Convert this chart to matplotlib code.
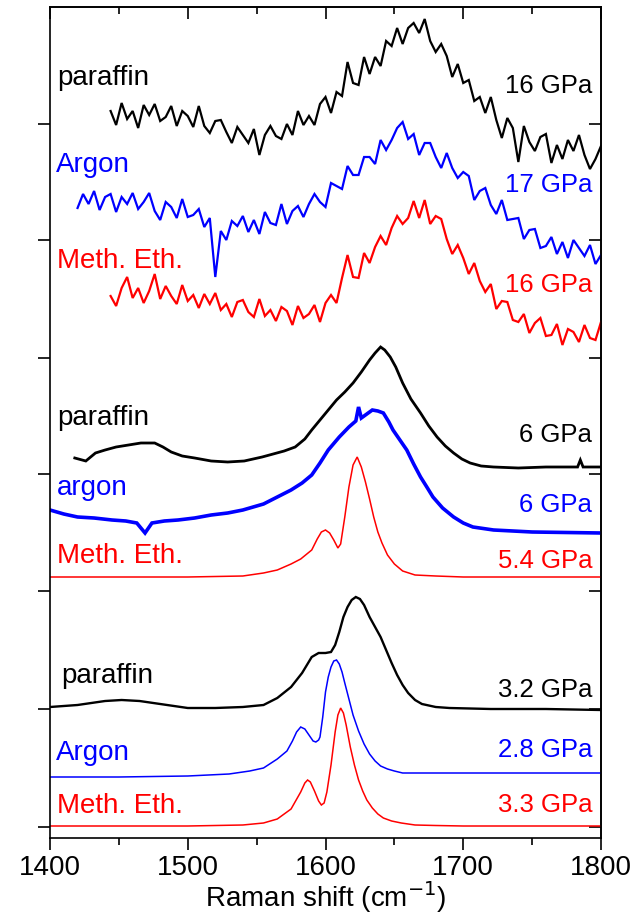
import matplotlib
matplotlib.use("Agg")
import matplotlib.pyplot as plt
from matplotlib.ticker import MultipleLocator

plt.rcParams['font.family'] = ['Liberation Sans', 'DejaVu Sans']

# Raman shift (cm^-1) and stacked intensity (arb. units) of each spectrum
# ---- high pressure (~16-17 GPa), noisy spectra on a 4 cm^-1 grid ----
wn_p16 = list(range(1444, 1801, 4))
I_p16 = [716, 702, 724, 708, 716, 699, 722, 712, 723, 706,
         710, 721, 701, 716, 711, 700, 721, 701, 694, 706,
         707, 695, 684, 700, 692, 684, 698, 672, 692, 701,
         691, 688, 703, 692, 716, 702, 711, 702, 723, 730,
         714, 735, 731, 765, 744, 742, 770, 753, 770, 761,
         786, 781, 799, 783, 799, 804, 794, 808, 786, 775,
         783, 771, 750, 763, 744, 747, 726, 730, 714, 730,
         707, 689, 709, 699, 665, 701, 685, 676, 690, 693,
         664, 682, 668, 687, 676, 692, 672, 658, 668, 681]

wn_ar17 = list(range(1420, 1801, 4))
I_ar17 = [619, 633, 623, 636, 617, 630, 633, 615, 630, 623,
          634, 618, 625, 634, 616, 607, 625, 620, 609, 628,
          610, 612, 618, 600, 609, 550, 596, 587, 606, 601,
          611, 595, 607, 593, 615, 604, 602, 623, 603, 616,
          621, 610, 623, 633, 625, 620, 644, 641, 638, 661,
          652, 652, 670, 670, 663, 687, 677, 687, 699, 705,
          688, 693, 672, 684, 684, 670, 659, 674, 659, 649,
          655, 651, 627, 636, 639, 622, 613, 627, 607, 608,
          609, 588, 597, 598, 579, 581, 590, 573, 585, 569,
          587, 579, 571, 582, 563, 572]

wn_me16 = list(range(1444, 1801, 4))
I_me16 = [531, 521, 539, 550, 529, 539, 524, 536, 553, 528,
          541, 531, 523, 542, 526, 532, 519, 533, 523, 534,
          517, 523, 510, 525, 527, 515, 510, 528, 511, 517,
          506, 520, 516, 502, 521, 509, 513, 522, 505, 524,
          532, 524, 549, 572, 550, 549, 574, 564, 580, 591,
          582, 599, 611, 603, 609, 626, 609, 627, 603, 611,
          608, 588, 573, 582, 569, 553, 564, 546, 535, 543,
          518, 526, 525, 507, 505, 513, 494, 504, 509, 491,
          492, 503, 482, 498, 495, 485, 502, 489, 487, 505]

# ---- intermediate pressure (~5-6 GPa) ----
wn_p6 = [1418, 1426, 1433, 1440, 1448, 1457, 1466, 1476, 1482, 1488,
         1496, 1505, 1517, 1529, 1541, 1554, 1562, 1570, 1578, 1585,
         1590, 1596, 1602, 1608, 1614, 1620, 1626, 1632, 1636, 1640,
         1643, 1647, 1651, 1656, 1662, 1669, 1675, 1681, 1687, 1693,
         1699, 1705, 1713, 1722, 1740, 1760, 1783, 1785, 1787, 1800]
I_p6 = [369, 366, 374, 377, 380, 382, 384, 384, 380, 375,
        371, 369, 366, 365, 366, 370, 373, 376, 380, 388,
        397, 407, 417, 427, 435, 444, 455, 467, 474, 480,
        477, 470, 460, 444, 428, 414, 401, 390, 381, 374,
        368, 364, 361, 360, 359, 360, 360, 367, 360, 360]

wn_ar6 = [1400, 1410, 1420, 1432, 1445, 1455, 1463, 1469, 1474, 1483,
          1493, 1505, 1517, 1529, 1540, 1555, 1565, 1575, 1583, 1590,
          1596, 1602, 1610, 1617, 1622, 1624, 1626, 1630, 1634, 1638,
          1642, 1646, 1649, 1654, 1659, 1664, 1669, 1674, 1678, 1685,
          1693, 1700, 1707, 1722, 1750, 1800]
I_ar6 = [317, 313, 310, 309, 307, 306, 304, 294, 304, 306,
         307, 309, 312, 314, 317, 323, 330, 337, 344, 352,
         364, 377, 390, 400, 406, 420, 409, 413, 417, 416,
         414, 405, 397, 387, 377, 363, 350, 339, 330, 319,
         310, 304, 300, 297, 295, 294]

wn_me54 = [1400, 1450, 1500, 1540, 1555, 1565, 1575, 1582, 1590, 1594,
           1597, 1600, 1603, 1606, 1609, 1611, 1614, 1617, 1620, 1623,
           1626, 1629, 1632, 1635, 1638, 1641, 1645, 1650, 1656, 1665,
           1680, 1700, 1750, 1800]
I_me54 = [250, 250, 250, 251, 254, 257, 263, 268, 277, 288,
          295, 297, 294, 287, 279, 283, 310, 340, 362, 370,
          360, 345, 328, 310, 295, 284, 272, 263, 256, 252,
          251, 250, 250, 250]

# ---- low pressure (~3 GPa) ----
wn_p32 = [1400, 1420, 1440, 1452, 1465, 1480, 1500, 1520, 1540, 1555,
          1565, 1575, 1583, 1590, 1595, 1600, 1604, 1607, 1610, 1613,
          1616, 1619, 1622, 1625, 1628, 1632, 1636, 1640, 1644, 1648,
          1652, 1656, 1660, 1665, 1670, 1680, 1690, 1720, 1760, 1800]
I_p32 = [120, 122, 126, 127, 126, 123, 119, 119, 120, 122,
         129, 140, 154, 170, 174, 174, 175, 182, 195, 210,
         220, 227, 230, 228, 222, 210, 200, 190, 177, 164,
         152, 142, 134, 127, 123, 120, 119, 118, 118, 117]

wn_ar28 = [1400, 1450, 1500, 1530, 1545, 1555, 1565, 1572, 1576, 1579,
           1582, 1585, 1588, 1591, 1593, 1595, 1596, 1598, 1600, 1602,
           1604, 1606, 1608, 1610, 1612, 1614, 1617, 1620, 1624, 1628,
           1632, 1636, 1640, 1645, 1650, 1656, 1680, 1700, 1750, 1800]
I_ar28 = [50, 50, 51, 53, 56, 59, 68, 76, 86, 95,
          100, 98, 92, 86, 85, 87, 90, 110, 135, 150,
          160, 166, 167, 163, 155, 144, 128, 112, 96, 83,
          73, 66, 61, 58, 56, 54, 54, 54, 54, 54]

wn_me33 = [1400, 1450, 1500, 1540, 1555, 1565, 1575, 1582, 1585, 1587,
           1589, 1592, 1595, 1597, 1599, 1601, 1604, 1607, 1609, 1611,
           1613, 1615, 1618, 1621, 1624, 1627, 1630, 1634, 1638, 1642,
           1648, 1655, 1665, 1680, 1700, 1750, 1800]
I_me33 = [1, 1, 1, 2, 4, 8, 18, 35, 44, 47,
          45, 36, 26, 22, 24, 35, 62, 95, 112, 119,
          114, 102, 80, 62, 47, 36, 27, 19, 13, 9,
          6, 4, 2, 1.5, 1, 1, 1]

media = ["paraffin", "Argon", "Meth. Eth.",
         "paraffin", "argon", "Meth. Eth.",
         "paraffin", "Argon", "Meth. Eth."]
pressures = ["16 GPa", "17 GPa", "16 GPa",
             "6 GPa", "6 GPa", "5.4 GPa",
             "3.2 GPa", "2.8 GPa", "3.3 GPa"]
y_ticks = [0, 118, 236, 353, 469, 587, 703]

spectra = [(wn_p16, I_p16), (wn_ar17, I_ar17), (wn_me16, I_me16),
           (wn_p6, I_p6), (wn_ar6, I_ar6), (wn_me54, I_me54),
           (wn_p32, I_p32), (wn_ar28, I_ar28), (wn_me33, I_me33)]
colors = ["black", "blue", "red"] * 3
widths = [1.6, 1.6, 1.6, 2.0, 2.6, 1.1, 1.7, 1.1, 1.1]

# label anchors (baseline heights in data units)
left_y = [742, 655, 559, 402, 332, 264, 144, 67, 14]
left_x = [1405, 1404, 1405, 1405, 1405, 1405, 1408, 1404, 1405]
right_y = [734, 635, 535, 385, 315, 259, 130, 70, 15]

fig = plt.figure(figsize=(6.38, 9.15), dpi=100)
ax = fig.add_axes([50 / 638, 1 - 838 / 915, 551 / 638, 831 / 915])

for (wn, inten), c, lw in zip(spectra, colors, widths):
    ax.plot(wn, inten, color=c, lw=lw, solid_joinstyle="miter")

for name, p, yl, xl, yr, c in zip(media, pressures, left_y, left_x, right_y, colors):
    ax.text(xl, yl, name, color=c, fontsize=20, ha="left", va="baseline")
    ax.text(1793.5, yr, p, color=c, fontsize=18.5, ha="right", va="baseline")

ax.set_xlim(1400, 1800)
ax.set_ylim(-11, 820)
ax.xaxis.set_major_locator(MultipleLocator(100))
ax.xaxis.set_minor_locator(MultipleLocator(50))
ax.set_yticks(y_ticks)
ax.tick_params(axis="x", which="major", direction="out", length=8.6, width=1.2,
               labelsize=20, pad=3.5, top=False)
ax.tick_params(axis="x", which="minor", direction="out", length=5, width=1.2, top=False)
ax.tick_params(axis="y", direction="out", length=8.6, width=1.2, labelleft=False, right=False)

top = ax.secondary_xaxis("top")
top.xaxis.set_major_locator(MultipleLocator(100))
top.xaxis.set_minor_locator(MultipleLocator(50))
top.tick_params(which="major", direction="in", length=8.6, width=1.2, labeltop=False)
top.tick_params(which="minor", direction="in", length=5, width=1.2)
right = ax.secondary_yaxis("right")
right.set_yticks(y_ticks)
right.tick_params(direction="in", length=8.6, width=1.2, labelright=False)

for s in list(ax.spines.values()) + [top.spines["top"], right.spines["right"]]:
    s.set_linewidth(1.2)

ax.set_xlabel("Raman shift (cm$^{-1}$)", fontsize=20, labelpad=-1.5)

fig.savefig("out.png", dpi=100)
